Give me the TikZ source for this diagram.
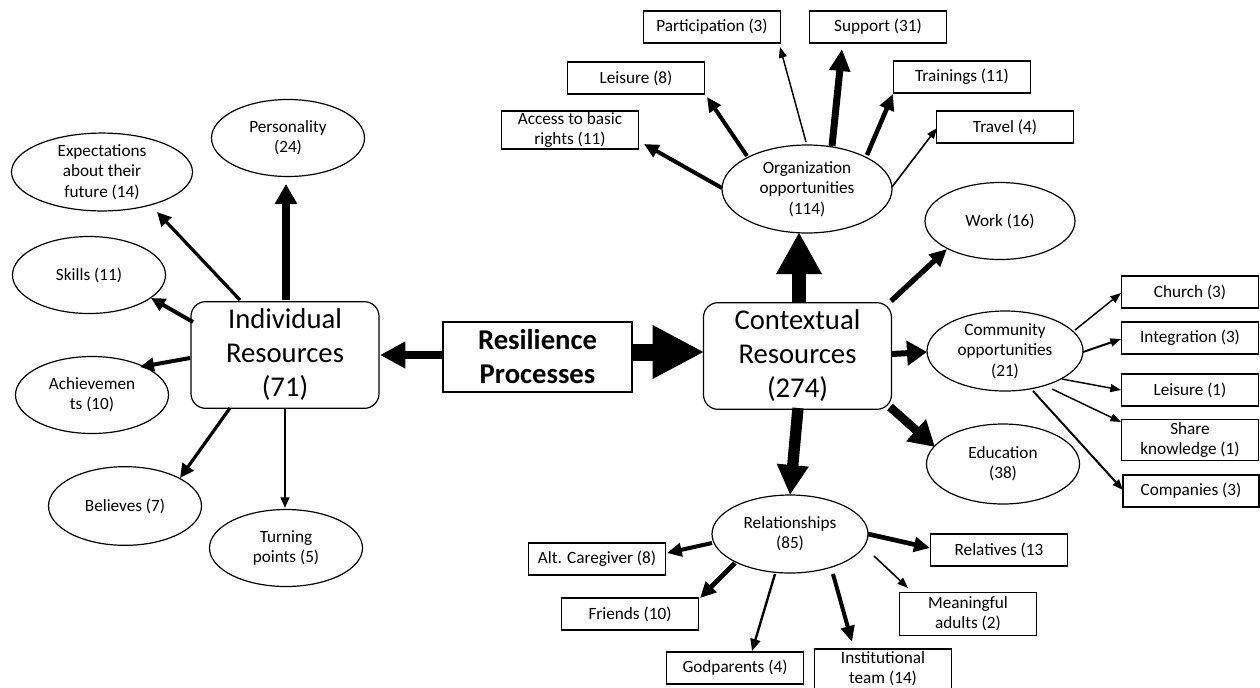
\documentclass[tikz,border=0pt]{standalone}
\usepackage{fontspec}
\setmainfont{Carlito}
\usetikzlibrary{arrows.meta,shapes.geometric,calc}
\newcommand{\smf}{\fontsize{12.9pt}{15.3pt}\selectfont}
\newcommand{\bigf}{\fontsize{21.5pt}{25.5pt}\selectfont}
\tikzset{
  box/.style={draw,line width=0.9pt,rectangle,minimum width=103pt,minimum height=24pt,inner sep=0pt,align=center,font=\smf},
  oval/.style={draw,line width=0.9pt,ellipse,minimum width=114.75pt,minimum height=57.75pt,inner sep=0pt,align=center,font=\smf},
  rbox/.style={draw,line width=0.9pt,rounded corners=11pt,minimum width=141pt,minimum height=80pt,inner sep=0pt,align=center,font=\bigf},
  ar/.style n args={3}{line width=#1,-{Triangle[length=#2,width=#3]}}
}
\begin{document}
\begin{tikzpicture}[x=0.75pt,y=-0.75pt]
\useasboundingbox (0,0) rectangle (1260,687);
% central nodes
\node[rbox] (ir) at (285,355) {Individual\\Resources\\(71)};
\node[rbox] (cr) at (797.5,356) {Contextual\\Resources\\(274)};
\node[draw,line width=0.9pt,minimum width=141.75pt,minimum height=52.5pt,inner sep=0pt,align=center,font=\bigf\bfseries] (res) at (537.5,357) {Resilience\\Processes};
% individual
\node[oval] (pers) at (288,138) {Personality\\(24)};
\node[oval,minimum width=135.75pt] (expc) at (102,172) {Expectations\\about their\\future (14)};
\node[oval] (skills) at (89,275) {Skills (11)};
\node[oval] (ach) at (92,395) {Achievemen\\ts (10)};
\node[oval,minimum height=59pt] (bel) at (125,506) {Believes (7)};
\node[oval] (turn) at (286,548) {Turning\\points (5)};
% organization
\node[oval,minimum width=127.5pt,minimum height=66pt] (org) at (807,189) {Organization\\opportunities\\(114)};
\node[box] (part) at (712,27) {Participation (3)};
\node[box] (supp) at (878,27) {Support (31)};
\node[box] (leis8) at (636,78) {Leisure (8)};
\node[box] (train) at (962,77) {Trainings (11)};
\node[box,minimum height=28.5pt] (access) at (570,130) {Access to basic\\rights (11)};
\node[box] (travel) at (1005,127) {Travel (4)};
% contextual
\node[oval,minimum width=112.5pt] (work) at (1000,221) {Work (16)};
\node[oval,minimum width=117pt,minimum height=60pt] (comm) at (1005,351) {Community\\opportunities\\(21)};
\node[oval,minimum height=60pt] (edu) at (1003,464) {Education\\(38)};
\node[oval,minimum width=117pt,minimum height=58.5pt] (rel) at (790,534) {Relationships\\(85)};
% community boxes
\node[box] (church) at (1190,292) {Church (3)};
\node[box] (integ) at (1190,338) {Integration (3)};
\node[box] (leis1) at (1190,390) {Leisure (1)};
\node[box,minimum height=31pt] (share) at (1190,440) {Share\\knowledge (1)};
\node[box,minimum width=102pt] (comp) at (1191,491) {Companies (3)};
% relationship boxes
\node[box] (alt) at (597,559) {Alt. Caregiver (8)};
\node[box] (friends) at (630,614) {Friends (10)};
\node[box] (god) at (735,668) {Godparents (4)};
\node[box,minimum height=30pt] (inst) at (883,669) {Institutional\\team (14)};
\node[box] (relatives) at (999,550) {Relatives (13};
\node[box,minimum height=32pt] (mean) at (968,614) {Meaningful\\adults (2)};
% arrows individual
\draw[ar={5.75pt}{15pt}{16pt}] ($(ir)+(1,-55)$) -- ($(pers)+(-2,46)$);
\draw[ar={2.4pt}{10.5pt}{10pt}] ($(ir)+(-45,-55)$) -- ($(expc)+(55,40)$);
\draw[ar={3pt}{10.5pt}{10pt}] ($(ir)+(-92,-33)$) -- ($(skills)+(62,23)$);
\draw[ar={3pt}{10.5pt}{10pt}] ($(ir)+(-95,3)$) -- ($(ach)+(48,-28)$);
\draw[ar={2.4pt}{10.5pt}{10pt}] ($(ir)+(-55,53)$) -- ($(bel)+(55,-28)$);
\draw[ar={1.5pt}{8pt}{6.5pt}] ($(ir)+(0,53)$) -- ($(turn)+(-1,-40)$);
% resilience
\draw[ar={6.5pt}{19pt}{19pt}] ($(res)+(-94.5,-2)$) -- ($(ir)+(95,0)$);
\draw[ar={12.75pt}{39pt}{37.5pt}] ($(res)+(94.5,-5)$) -- ($(cr)+(-93,-4)$);
% contextual
\draw[ar={10.5pt}{31.5pt}{32pt}] ($(cr)+(1.5,-54)$) -- ($(org)+(-8,43)$);
\draw[ar={4pt}{13pt}{12pt}] ($(cr)+(93.5,-55)$) -- ($(work)+(-53,28)$);
\draw[ar={4.5pt}{15pt}{18pt}] ($(cr)+(94.5,-2)$) -- ($(comm)+(-78,1)$);
\draw[ar={6.5pt}{19pt}{21pt}] ($(cr)+(92.5,51)$) -- ($(edu)+(-68,-17)$);
\draw[ar={8.5pt}{22.5pt}{22.5pt}] ($(cr)+(0.5,52)$) -- ($(rel)+(0,-39)$);
% organization
\draw[ar={3pt}{11pt}{10pt}] ($(org)+(-85,-1)$) -- ($(access)+(74,14)$);
\draw[ar={3pt}{11pt}{10pt}] ($(org)+(-60,-33)$) -- ($(leis8)+(71,19)$);
\draw[ar={1.1pt}{8pt}{6pt}] ($(org)+(-1,-47)$) -- ($(part)+(68,20)$);
\draw[ar={5.25pt}{16.5pt}{15pt}] ($(org)+(25,-43)$) -- ($(supp)+(-36,22)$);
\draw[ar={3.4pt}{12pt}{11pt}] ($(org)+(60,-34)$) -- ($(train)+(-69,17)$);
\draw[ar={1.2pt}{8pt}{6pt}] ($(org)+(85,-2)$) -- ($(travel)+(-68,1)$);
% community
\draw[ar={1.1pt}{8pt}{6pt}] ($(comm)+(70,-21)$) -- ($(church)+(-69,1)$);
\draw[ar={1.5pt}{8pt}{6pt}] ($(comm)+(78,1)$) -- ($(integ)+(-69,1)$);
\draw[ar={1.1pt}{8pt}{6pt}] ($(comm)+(57,28)$) -- ($(leis1)+(-69,0)$);
\draw[ar={1.1pt}{8pt}{6pt}] ($(comm)+(47,38)$) -- ($(share)+(-69,-18)$);
\draw[ar={1.5pt}{8pt}{6pt}] ($(comm)+(28,40)$) -- ($(comp)+(-68,-1)$);
% relationships
\draw[ar={3pt}{11pt}{10pt}] ($(rel)+(-78,9)$) -- ($(alt)+(70,-6)$);
\draw[ar={3.5pt}{12pt}{11pt}] ($(rel)+(-55,29)$) -- ($(friends)+(70,-16)$);
\draw[ar={1.8pt}{9pt}{7.5pt}] ($(rel)+(-15,40)$) -- ($(god)+(17,-17)$);
\draw[ar={3pt}{12pt}{10pt}] ($(rel)+(43,40)$) -- ($(inst)+(-31,-27)$);
\draw[ar={3.5pt}{12pt}{11pt}] ($(rel)+(78,0)$) -- ($(relatives)+(-69,-2)$);
\draw[ar={1.2pt}{8pt}{6pt}] ($(rel)+(84,22)$) -- ($(mean)+(-60,-26)$);
\end{tikzpicture}
\end{document}
